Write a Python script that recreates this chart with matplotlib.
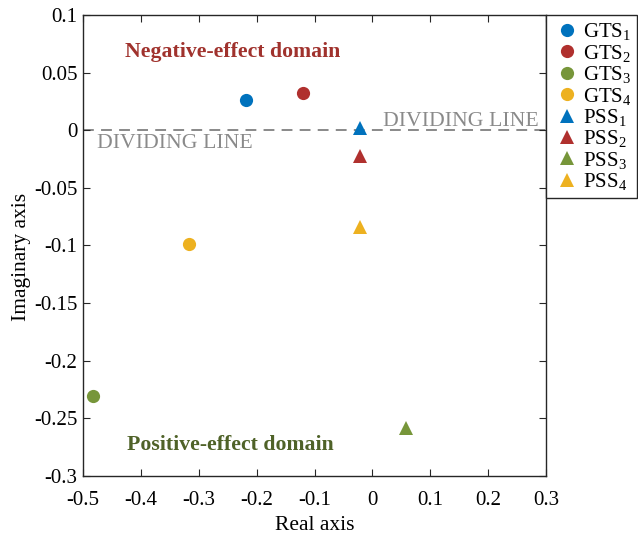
import matplotlib
matplotlib.use("Agg")
import matplotlib.pyplot as plt
from matplotlib.ticker import FixedLocator, FuncFormatter

plt.rcParams['font.family'] = ['Liberation Serif', 'DejaVu Serif']
plt.rcParams['mathtext.fontset'] = 'custom'
plt.rcParams['mathtext.rm'] = 'Liberation Serif'
plt.rcParams['mathtext.it'] = 'Liberation Serif:italic'

# Data
gts_labels = ['GTS$_1$', 'GTS$_2$', 'GTS$_3$', 'GTS$_4$']
gts_re = [-0.218, -0.120, -0.483, -0.316]
gts_im = [0.026, 0.032, -0.231, -0.099]
pss_labels = ['PSS$_1$', 'PSS$_2$', 'PSS$_3$', 'PSS$_4$']
pss_re = [-0.022, -0.022, 0.058, -0.022]
pss_im = [0.002, -0.022, -0.258, -0.084]
colors = ['#0072BD', '#B0302E', '#77963A', '#EDB120']
xticks = [-0.5, -0.4, -0.3, -0.2, -0.1, 0, 0.1, 0.2, 0.3]
yticks = [-0.3, -0.25, -0.2, -0.15, -0.1, -0.05, 0, 0.05, 0.1]

fig = plt.figure(figsize=(6.38, 5.36), dpi=100)
ax = fig.add_axes([0.130, 0.112, 0.726, 0.860])

ax.plot([-0.5, 0.3], [0, 0], linestyle=(0, (6, 4)), color='#808080', lw=1.3, zorder=1)

handles = []
for lab, x, y, c in zip(gts_labels, gts_re, gts_im, colors):
    h, = ax.plot([x], [y], 'o', color=c, markersize=9.5, markeredgewidth=0, label=lab, zorder=3)
    handles.append(h)
for lab, x, y, c in zip(pss_labels, pss_re, pss_im, colors):
    h, = ax.plot([x], [y], '^', color=c, markersize=9.5, markeredgewidth=0, label=lab, zorder=3)
    handles.append(h)

ax.text(-0.476, -0.003, 'DIVIDING LINE', color='#8a8a8a', fontsize=15.7, va='top', ha='left')
ax.text(0.019, -0.001, 'DIVIDING LINE', color='#8a8a8a', fontsize=15.7, va='bottom', ha='left')
ax.text(-0.427, 0.0675, 'Negative-effect domain', color='#A0322D', fontsize=15.7,
        fontweight='bold', va='center', ha='left')
ax.text(-0.424, -0.2735, 'Positive-effect domain', color='#4F6228', fontsize=15.7,
        fontweight='bold', va='center', ha='left')

ax.set_xlim(-0.5, 0.3)
ax.set_ylim(-0.3, 0.1)
ax.xaxis.set_major_locator(FixedLocator(xticks))
ax.yaxis.set_major_locator(FixedLocator(yticks))
fmt = FuncFormatter(lambda v, p: ('%g' % round(v, 3)).replace('\u2212', '-'))
ax.xaxis.set_major_formatter(fmt)
ax.yaxis.set_major_formatter(fmt)
ax.tick_params(direction='in', top=True, right=True, length=5, width=0.8,
               labelsize=15, colors='#262626', labelcolor='black')
ax.tick_params(axis='y', pad=4)
ax.tick_params(axis='x', pad=11)
for s in ax.spines.values():
    s.set_color('#262626')
    s.set_linewidth(1.0)
ax.set_xlabel('Real axis', fontsize=15.5, labelpad=4)
ax.set_ylabel('Imaginary axis', fontsize=15.5)
ax.yaxis.set_label_coords(-0.112, 0.475)

leg = ax.legend(handles=handles, loc='upper left', bbox_to_anchor=(1.0, 1.0),
                borderaxespad=0, fontsize=15, frameon=True, fancybox=False,
                edgecolor='#262626', framealpha=1, labelspacing=0.02,
                handlelength=1.4, handletextpad=0.05, borderpad=0.3)
leg.get_frame().set_linewidth(1.0)

fig.savefig('out.png', dpi=100)
